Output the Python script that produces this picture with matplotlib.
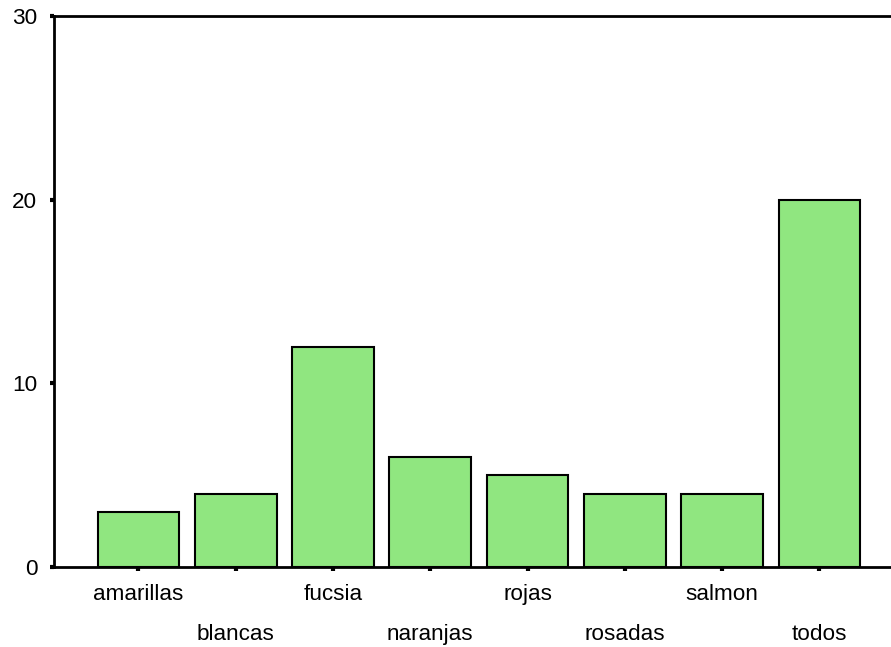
import matplotlib.pyplot as plt

categorias = ["amarillas", "blancas", "fucsia", "naranjas", "rojas", "rosadas", "salmon", "todos"]
valores = [3, 4, 12, 6, 5, 4, 4, 20]
yticks = [0, 10, 20, 30]

plt.rcParams['font.family'] = ['Liberation Sans', 'DejaVu Sans']

fig = plt.figure(figsize=(8.91, 6.47), dpi=100)
ax = fig.add_axes([0.0606, 0.1236, 0.9394, 0.8514])

x = list(range(len(categorias)))
ax.bar(x, valores, width=0.84, color='#90e680', edgecolor='black', linewidth=1.5, zorder=3)

ax.set_xlim(-0.868, 7.735)
ax.set_ylim(0, 30)

# etiquetas alternadas en dos filas: pares como mayores, impares como menores
pares = [i for i in x if i % 2 == 0]
impares = [i for i in x if i % 2 == 1]
ax.set_xticks(pares)
ax.set_xticklabels([categorias[i] for i in pares], fontsize=16.2)
ax.set_xticks(impares, minor=True)
ax.set_xticklabels([categorias[i] for i in impares], minor=True, fontsize=16.2)
ax.set_yticks(yticks)
ax.set_yticklabels([str(v) for v in yticks], fontsize=16.2)

ax.tick_params(axis='x', which='major', direction='out', length=3, width=3, pad=9)
ax.tick_params(axis='x', which='minor', direction='out', length=3, width=3, pad=38)
ax.tick_params(axis='y', direction='out', length=3, width=3, pad=9)

ax.spines['right'].set_visible(False)
for s in ['left', 'bottom', 'top']:
    ax.spines[s].set_linewidth(2)

fig.savefig("out.png", dpi=100)
